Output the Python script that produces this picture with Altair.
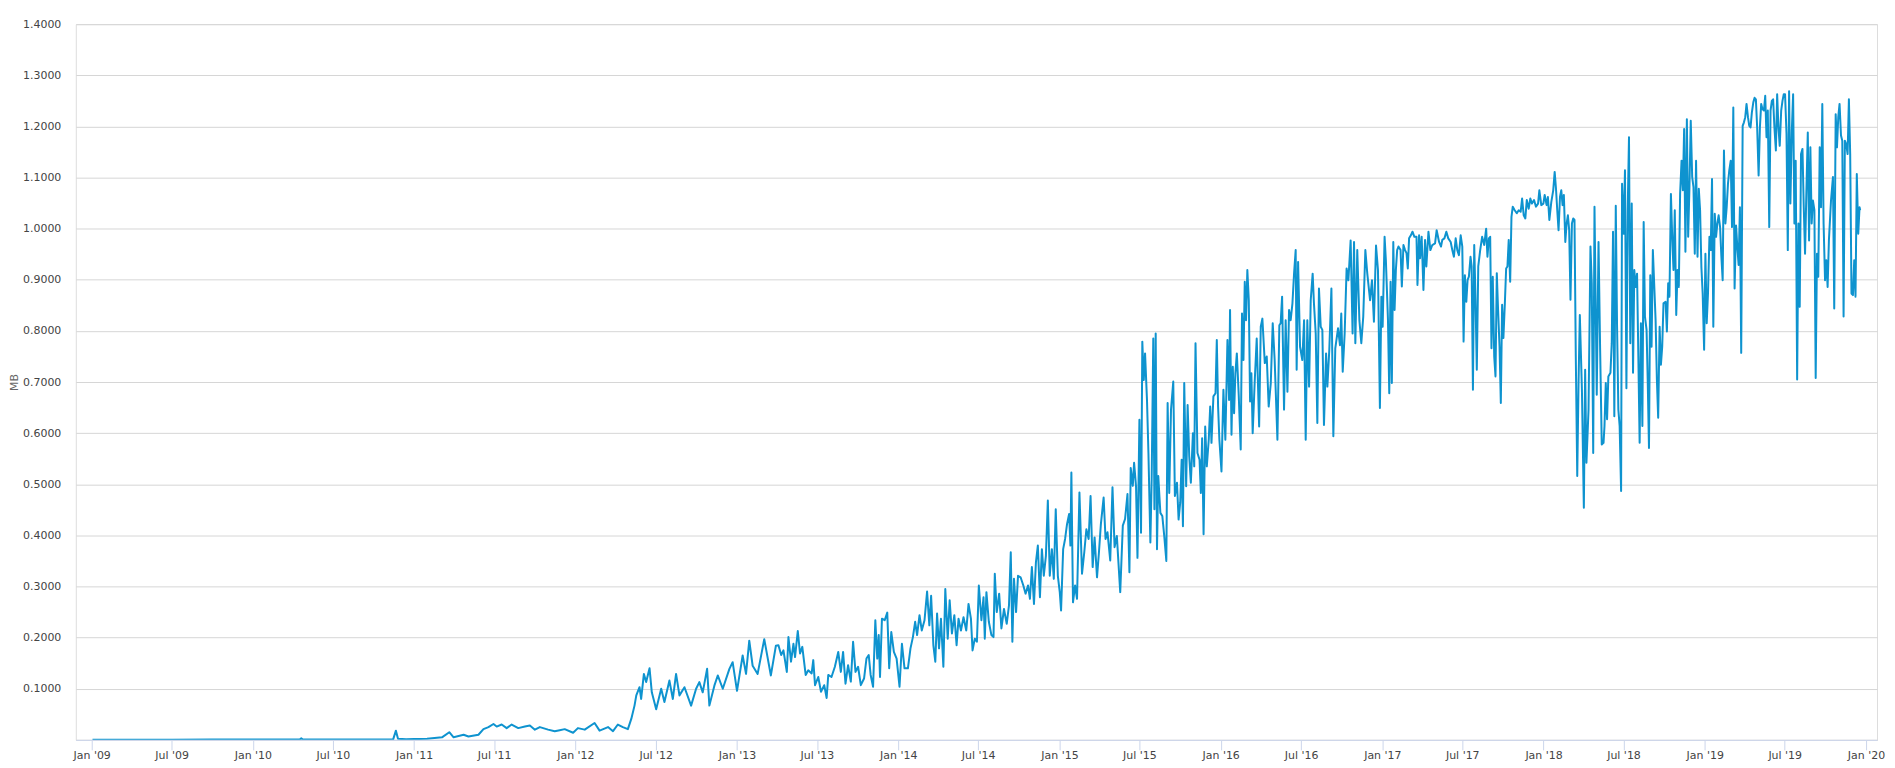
import altair as alt
import pandas as pd

# Average block size (MB); points are [decimal year, MB]
seg_2009_2013 = [
    [2009.005, 0.0002], [2009.25, 0.0003], [2009.5, 0.0004], [2009.75, 0.0005], [2009.9, 0.0007],
    [2010.1, 0.0006], [2010.29, 0.0007], [2010.30, 0.003], [2010.31, 0.0008], [2010.5, 0.0008],
    [2010.7, 0.0009], [2010.87, 0.001], [2010.887, 0.018], [2010.90, 0.002], [2010.95, 0.0012],
    [2011.0, 0.0015], [2011.08, 0.002], [2011.173, 0.005], [2011.218, 0.015], [2011.245, 0.005],
    [2011.307, 0.01], [2011.337, 0.0065], [2011.399, 0.01], [2011.430, 0.021], [2011.461, 0.025],
    [2011.492, 0.031], [2011.512, 0.026], [2011.543, 0.03], [2011.574, 0.023], [2011.605, 0.03],
    [2011.646, 0.023], [2011.687, 0.026], [2011.718, 0.028], [2011.749, 0.02], [2011.780, 0.025],
    [2011.831, 0.02], [2011.872, 0.017], [2011.903, 0.019], [2011.934, 0.021], [2011.986, 0.014],
    [2012.016, 0.023], [2012.058, 0.02], [2012.119, 0.033], [2012.150, 0.018], [2012.202, 0.025],
    [2012.233, 0.017], [2012.263, 0.03], [2012.294, 0.025], [2012.325, 0.021], [2012.346, 0.041],
    [2012.366, 0.067], [2012.377, 0.087], [2012.397, 0.103], [2012.407, 0.08], [2012.424, 0.129],
    [2012.438, 0.113], [2012.459, 0.14], [2012.473, 0.093], [2012.5, 0.06], [2012.531, 0.1],
    [2012.551, 0.074], [2012.582, 0.116], [2012.603, 0.08], [2012.623, 0.129], [2012.644, 0.087],
    [2012.675, 0.103], [2012.716, 0.067], [2012.747, 0.1], [2012.767, 0.113], [2012.788, 0.093],
    [2012.815, 0.139], [2012.829, 0.067], [2012.860, 0.106], [2012.881, 0.126], [2012.912, 0.1],
    [2012.953, 0.139], [2012.973, 0.152], [2013.0, 0.096], [2013.035, 0.165], [2013.056, 0.129],
    [2013.076, 0.194], [2013.097, 0.145], [2013.128, 0.129], [2013.169, 0.197], [2013.210, 0.126],
    [2013.241, 0.184],
]

seg_2013_2015 = [
    [2013.257, 0.185], [2013.274, 0.166], [2013.288, 0.175], [2013.309, 0.133], [2013.319, 0.201],
    [2013.335, 0.153], [2013.350, 0.188], [2013.360, 0.162], [2013.377, 0.213], [2013.391, 0.169],
    [2013.405, 0.182], [2013.426, 0.127], [2013.442, 0.136], [2013.463, 0.13], [2013.473, 0.156],
    [2013.484, 0.107], [2013.504, 0.123], [2013.521, 0.094], [2013.541, 0.107], [2013.556, 0.082],
    [2013.566, 0.127], [2013.586, 0.123], [2013.607, 0.143], [2013.628, 0.172], [2013.644, 0.133],
    [2013.658, 0.172], [2013.673, 0.11], [2013.689, 0.146], [2013.706, 0.114], [2013.720, 0.192],
    [2013.735, 0.133], [2013.751, 0.143], [2013.768, 0.107], [2013.788, 0.12], [2013.803, 0.159],
    [2013.817, 0.166], [2013.829, 0.127], [2013.844, 0.104], [2013.858, 0.234], [2013.870, 0.159],
    [2013.879, 0.205], [2013.887, 0.123], [2013.899, 0.237], [2013.916, 0.234], [2013.932, 0.249],
    [2013.944, 0.14], [2013.957, 0.211], [2013.973, 0.172], [2013.990, 0.159], [2014.008, 0.104],
    [2014.023, 0.188], [2014.039, 0.14], [2014.060, 0.14], [2014.076, 0.179], [2014.091, 0.201],
    [2014.105, 0.231], [2014.117, 0.205], [2014.132, 0.244], [2014.146, 0.214], [2014.163, 0.234],
    [2014.179, 0.29], [2014.193, 0.224], [2014.204, 0.282], [2014.218, 0.185], [2014.230, 0.153],
    [2014.241, 0.247], [2014.253, 0.179], [2014.265, 0.237], [2014.280, 0.143], [2014.292, 0.295],
    [2014.307, 0.198], [2014.319, 0.273], [2014.333, 0.208], [2014.348, 0.244], [2014.362, 0.185],
    [2014.374, 0.237], [2014.389, 0.214], [2014.405, 0.24], [2014.422, 0.214], [2014.436, 0.266],
    [2014.451, 0.237], [2014.461, 0.175], [2014.475, 0.198], [2014.488, 0.192], [2014.500, 0.302],
    [2014.516, 0.234], [2014.529, 0.279], [2014.537, 0.198], [2014.547, 0.289], [2014.562, 0.231],
    [2014.578, 0.205], [2014.591, 0.201], [2014.599, 0.325], [2014.611, 0.25], [2014.626, 0.286],
    [2014.640, 0.218], [2014.656, 0.256], [2014.673, 0.227], [2014.687, 0.263], [2014.698, 0.367],
    [2014.708, 0.192], [2014.718, 0.315], [2014.731, 0.25], [2014.743, 0.321], [2014.759, 0.318],
    [2014.776, 0.302], [2014.790, 0.286], [2014.805, 0.302], [2014.817, 0.276], [2014.829, 0.338],
    [2014.842, 0.266], [2014.854, 0.347], [2014.866, 0.38], [2014.879, 0.279], [2014.891, 0.373],
    [2014.903, 0.321], [2014.916, 0.36], [2014.928, 0.468], [2014.940, 0.321], [2014.953, 0.373],
    [2014.965, 0.315], [2014.977, 0.451], [2014.990, 0.321], [2015.002, 0.289], [2015.010, 0.253],
    [2015.023, 0.373], [2015.035, 0.393], [2015.047, 0.422], [2015.060, 0.442], [2015.068, 0.38],
    [2015.074, 0.523], [2015.084, 0.269], [2015.097, 0.302], [2015.109, 0.276], [2015.124, 0.484],
    [2015.140, 0.325], [2015.154, 0.367], [2015.167, 0.412], [2015.181, 0.393], [2015.193, 0.477],
    [2015.206, 0.338], [2015.218, 0.396], [2015.233, 0.318], [2015.245, 0.367], [2015.257, 0.422],
    [2015.274, 0.474], [2015.286, 0.393], [2015.298, 0.406], [2015.315, 0.351], [2015.329, 0.494],
    [2015.342, 0.377], [2015.356, 0.399], [2015.377, 0.289], [2015.393, 0.419], [2015.407, 0.432],
    [2015.422, 0.481], [2015.434, 0.328], [2015.442, 0.532], [2015.455, 0.497], [2015.463, 0.542],
]

seg_2015_2017 = [
    [2015.475, 0.496], [2015.484, 0.356], [2015.496, 0.626], [2015.506, 0.405], [2015.514, 0.779],
    [2015.523, 0.704], [2015.531, 0.756], [2015.543, 0.665], [2015.552, 0.561], [2015.564, 0.386],
    [2015.572, 0.509], [2015.582, 0.785], [2015.589, 0.451], [2015.597, 0.795], [2015.605, 0.373],
    [2015.613, 0.516], [2015.626, 0.444], [2015.638, 0.438], [2015.650, 0.399], [2015.663, 0.35],
    [2015.671, 0.659], [2015.681, 0.483], [2015.692, 0.646], [2015.706, 0.701], [2015.716, 0.477],
    [2015.729, 0.503], [2015.739, 0.431], [2015.749, 0.464], [2015.758, 0.548], [2015.766, 0.418],
    [2015.774, 0.698], [2015.786, 0.496], [2015.795, 0.655], [2015.805, 0.555], [2015.815, 0.503],
    [2015.828, 0.6], [2015.836, 0.535], [2015.844, 0.776], [2015.856, 0.561], [2015.869, 0.548],
    [2015.877, 0.483], [2015.885, 0.59], [2015.894, 0.402], [2015.904, 0.613], [2015.914, 0.535],
    [2015.926, 0.587], [2015.935, 0.652], [2015.943, 0.581], [2015.955, 0.672], [2015.968, 0.678],
    [2015.976, 0.782], [2015.984, 0.652], [2015.992, 0.587], [2016.005, 0.525], [2016.017, 0.685],
    [2016.029, 0.587], [2016.042, 0.782], [2016.052, 0.665], [2016.058, 0.841], [2016.067, 0.597],
    [2016.075, 0.73], [2016.083, 0.639], [2016.091, 0.717], [2016.100, 0.756], [2016.112, 0.672],
    [2016.124, 0.568], [2016.132, 0.834], [2016.141, 0.743], [2016.149, 0.896], [2016.157, 0.821],
    [2016.165, 0.919], [2016.174, 0.86], [2016.182, 0.662], [2016.190, 0.717], [2016.198, 0.6],
    [2016.211, 0.704], [2016.223, 0.785], [2016.238, 0.613], [2016.248, 0.808], [2016.258, 0.824],
    [2016.273, 0.737], [2016.285, 0.75], [2016.297, 0.652], [2016.310, 0.698], [2016.322, 0.815],
    [2016.334, 0.743], [2016.351, 0.587], [2016.363, 0.811], [2016.371, 0.815], [2016.380, 0.867],
    [2016.392, 0.646], [2016.402, 0.821], [2016.413, 0.681], [2016.423, 0.841], [2016.433, 0.821],
    [2016.444, 0.854], [2016.454, 0.912], [2016.464, 0.958], [2016.470, 0.724], [2016.479, 0.935],
    [2016.491, 0.769], [2016.505, 0.743], [2016.516, 0.821], [2016.526, 0.587], [2016.536, 0.821],
    [2016.547, 0.691], [2016.557, 0.86], [2016.569, 0.912], [2016.577, 0.854], [2016.588, 0.795],
    [2016.598, 0.62], [2016.608, 0.883], [2016.619, 0.808], [2016.629, 0.802], [2016.639, 0.616],
    [2016.652, 0.756], [2016.660, 0.691], [2016.672, 0.763], [2016.685, 0.883], [2016.697, 0.594],
    [2016.709, 0.766], [2016.726, 0.805], [2016.738, 0.772], [2016.746, 0.834], [2016.755, 0.72],
    [2016.767, 0.795], [2016.779, 0.922], [2016.790, 0.899], [2016.804, 0.977], [2016.816, 0.795],
    [2016.825, 0.974], [2016.833, 0.776], [2016.845, 0.958], [2016.858, 0.821], [2016.870, 0.776],
    [2016.882, 0.828], [2016.895, 0.958], [2016.907, 0.912], [2016.924, 0.86], [2016.936, 0.899],
    [2016.948, 0.818], [2016.961, 0.967], [2016.973, 0.919], [2016.985, 0.649], [2016.994, 0.867],
    [2017.002, 0.808], [2017.014, 0.984], [2017.022, 0.938], [2017.035, 0.821], [2017.043, 0.678],
    [2017.051, 0.896], [2017.059, 0.698], [2017.068, 0.974], [2017.076, 0.841],
]

seg_2017_2018 = [
    [2017.084, 0.919], [2017.092, 0.958], [2017.100, 0.965], [2017.113, 0.958], [2017.121, 0.887],
    [2017.131, 0.968], [2017.141, 0.958], [2017.150, 0.952], [2017.158, 0.922], [2017.166, 0.981],
    [2017.177, 0.987], [2017.187, 0.994], [2017.199, 0.984], [2017.212, 0.984], [2017.218, 0.89],
    [2017.228, 0.987], [2017.234, 0.942], [2017.244, 0.984], [2017.255, 0.88], [2017.265, 0.978],
    [2017.273, 0.926], [2017.286, 0.994], [2017.298, 0.958], [2017.310, 0.968], [2017.327, 0.971],
    [2017.337, 0.997], [2017.352, 0.974], [2017.364, 0.965], [2017.372, 0.978], [2017.385, 0.981],
    [2017.397, 0.994], [2017.409, 0.981], [2017.424, 0.974], [2017.434, 0.958], [2017.444, 0.945],
    [2017.455, 0.981], [2017.465, 0.958], [2017.475, 0.948], [2017.486, 0.987], [2017.496, 0.965],
    [2017.504, 0.779], [2017.512, 0.909], [2017.521, 0.857], [2017.529, 0.9], [2017.537, 0.906],
    [2017.547, 0.945], [2017.554, 0.926], [2017.562, 0.685], [2017.570, 0.968], [2017.578, 0.861],
    [2017.586, 0.724], [2017.595, 0.926], [2017.607, 0.958], [2017.619, 0.984], [2017.632, 0.968],
    [2017.644, 1.0], [2017.652, 0.945], [2017.661, 0.981], [2017.669, 0.984], [2017.677, 0.766],
    [2017.685, 0.906], [2017.694, 0.75], [2017.702, 0.711], [2017.710, 0.913], [2017.718, 0.841],
    [2017.727, 0.769], [2017.735, 0.659], [2017.743, 0.851], [2017.751, 0.786], [2017.760, 0.854],
    [2017.768, 0.922], [2017.776, 0.926], [2017.784, 0.978], [2017.793, 0.896], [2017.801, 1.023],
    [2017.809, 1.043], [2017.821, 1.036], [2017.834, 1.03], [2017.846, 1.036], [2017.858, 1.033],
    [2017.867, 1.059], [2017.877, 1.026], [2017.887, 1.02], [2017.896, 1.056], [2017.908, 1.039],
    [2017.918, 1.059], [2017.928, 1.049], [2017.941, 1.056], [2017.953, 1.043], [2017.966, 1.049],
    [2017.974, 1.075], [2017.986, 1.046], [2017.999, 1.049], [2018.007, 1.066], [2018.019, 1.046],
    [2018.027, 1.062], [2018.036, 1.017], [2018.048, 1.052], [2018.060, 1.075], [2018.069, 1.111],
    [2018.077, 1.079], [2018.085, 1.036], [2018.093, 0.997], [2018.102, 1.062], [2018.110, 1.075],
    [2018.118, 1.046], [2018.126, 1.066], [2018.135, 0.974], [2018.143, 1.01], [2018.151, 1.026],
    [2018.159, 0.997], [2018.167, 0.861], [2018.176, 1.01], [2018.184, 1.02], [2018.192, 1.017],
    [2018.200, 0.75], [2018.209, 0.516], [2018.217, 0.698], [2018.225, 0.831], [2018.238, 0.685],
    [2018.250, 0.454], [2018.258, 0.724], [2018.266, 0.542], [2018.279, 0.646], [2018.291, 0.965],
    [2018.299, 0.893], [2018.308, 0.561], [2018.316, 1.043],
]

seg_2018_2019 = [
    [2018.330, 0.675], [2018.341, 0.974], [2018.351, 0.763], [2018.361, 0.578], [2018.372, 0.581],
    [2018.378, 0.614], [2018.386, 0.698], [2018.394, 0.627], [2018.402, 0.711], [2018.415, 0.718],
    [2018.423, 0.776], [2018.431, 0.994], [2018.439, 0.633], [2018.448, 1.045], [2018.456, 0.808],
    [2018.464, 0.646], [2018.472, 0.614], [2018.481, 0.487], [2018.487, 1.088], [2018.497, 0.99],
    [2018.505, 1.114], [2018.514, 0.688], [2018.522, 1.036], [2018.530, 1.179], [2018.538, 0.776],
    [2018.547, 1.049], [2018.555, 0.718], [2018.563, 0.919], [2018.571, 0.886], [2018.580, 0.912],
    [2018.588, 0.75], [2018.596, 0.581], [2018.604, 0.815], [2018.613, 0.614], [2018.621, 1.013],
    [2018.629, 0.828], [2018.639, 0.802], [2018.646, 0.705], [2018.654, 0.571], [2018.662, 0.909],
    [2018.670, 0.769], [2018.678, 0.958], [2018.687, 0.886], [2018.695, 0.821], [2018.703, 0.705],
    [2018.711, 0.63], [2018.720, 0.808], [2018.728, 0.734], [2018.736, 0.769], [2018.744, 0.854],
    [2018.757, 0.857], [2018.765, 0.799], [2018.773, 0.893], [2018.781, 0.867], [2018.790, 1.068],
    [2018.798, 0.984], [2018.806, 0.919], [2018.814, 1.036], [2018.823, 0.831], [2018.831, 0.919],
    [2018.839, 0.886], [2018.847, 1.068], [2018.856, 1.133], [2018.864, 1.075], [2018.872, 1.195],
    [2018.880, 0.955], [2018.889, 1.214], [2018.897, 0.984], [2018.905, 1.081], [2018.913, 1.211],
    [2018.922, 1.101], [2018.930, 1.081], [2018.938, 0.951], [2018.946, 1.133], [2018.955, 0.945],
    [2018.963, 1.078], [2018.971, 1.036], [2018.979, 0.925], [2018.987, 0.873], [2018.996, 0.763],
    [2019.004, 0.951], [2019.012, 0.815], [2019.020, 0.873], [2019.029, 0.984], [2019.037, 0.958],
    [2019.045, 1.097], [2019.053, 0.808], [2019.062, 1.029], [2019.070, 0.984], [2019.078, 1.01],
    [2019.086, 1.026], [2019.095, 1.003], [2019.103, 0.945], [2019.111, 0.899], [2019.119, 1.153],
    [2019.128, 1.01], [2019.136, 1.042], [2019.144, 1.088], [2019.152, 1.114], [2019.161, 1.133],
    [2019.169, 1.003], [2019.177, 1.237], [2019.185, 0.883], [2019.194, 1.006], [2019.202, 0.964],
    [2019.210, 0.929], [2019.218, 1.042], [2019.226, 0.757], [2019.235, 1.201], [2019.243, 1.208],
    [2019.251, 1.218], [2019.259, 1.244], [2019.268, 1.218], [2019.276, 1.201], [2019.284, 1.198],
    [2019.292, 1.227], [2019.301, 1.247], [2019.309, 1.256], [2019.317, 1.253], [2019.325, 1.198],
    [2019.334, 1.104], [2019.342, 1.198], [2019.350, 1.244], [2019.358, 1.234], [2019.367, 1.231],
    [2019.375, 1.26], [2019.383, 1.179], [2019.391, 1.231], [2019.400, 1.003], [2019.408, 1.231],
    [2019.416, 1.25], [2019.424, 1.253], [2019.432, 1.198], [2019.441, 1.153], [2019.449, 1.263],
    [2019.457, 1.198], [2019.465, 1.162], [2019.474, 1.231], [2019.482, 1.25], [2019.490, 1.263],
    [2019.498, 1.263], [2019.507, 1.185], [2019.515, 0.958], [2019.523, 1.269], [2019.531, 1.049],
    [2019.540, 1.192], [2019.548, 1.263], [2019.556, 1.01], [2019.564, 1.133], [2019.573, 0.705],
    [2019.581, 1.01], [2019.589, 0.847], [2019.597, 1.146], [2019.606, 1.156], [2019.614, 1.042],
    [2019.622, 0.951], [2019.630, 1.068], [2019.639, 1.188], [2019.647, 0.977], [2019.655, 1.159],
    [2019.663, 1.01], [2019.671, 1.055], [2019.680, 1.036], [2019.688, 0.708], [2019.696, 0.951],
    [2019.704, 0.906], [2019.713, 1.159], [2019.721, 1.042], [2019.729, 1.244], [2019.737, 1.01],
    [2019.746, 0.899], [2019.754, 0.938], [2019.762, 0.886], [2019.770, 0.977], [2019.783, 1.055],
    [2019.795, 1.101], [2019.803, 0.844], [2019.812, 1.224], [2019.820, 1.159], [2019.828, 1.218],
    [2019.836, 1.244], [2019.845, 1.182], [2019.853, 1.172], [2019.861, 0.828], [2019.869, 1.172],
    [2019.877, 1.166], [2019.886, 1.146], [2019.894, 1.253], [2019.902, 1.146], [2019.910, 0.873],
    [2019.919, 0.87], [2019.927, 0.938], [2019.935, 0.867], [2019.943, 1.107], [2019.952, 0.99],
    [2019.960, 1.042], [2019.964, 1.036],
]

y_ticks = [0.0, 0.1, 0.2, 0.3, 0.4, 0.5, 0.6, 0.7, 0.8, 0.9, 1.0, 1.1, 1.2, 1.3, 1.4]
x_tick_years = list(range(2009, 2021))


def to_date(y):
    yr = int(y)
    start = pd.Timestamp(yr, 1, 1)
    end = pd.Timestamp(yr + 1, 1, 1)
    return start + (y - yr) * (end - start)


rows = seg_2009_2013 + seg_2013_2015 + seg_2015_2017 + seg_2017_2018 + seg_2018_2019
df = pd.DataFrame(rows, columns=["year", "mb"]).sort_values("year")
df["date"] = df["year"].map(to_date).dt.strftime("%Y-%m-%dT%H:%M:%S")
df = df[["date", "mb"]]

x_tick_values = []
for yr in x_tick_years:
    x_tick_values.append(alt.DateTime(year=yr, month=1, date=1))
    if yr < 2020:
        x_tick_values.append(alt.DateTime(year=yr, month=7, date=1))

FONT = "DejaVu Sans"

chart = (
    alt.Chart(df)
    .mark_line(color="#0E93CF", strokeWidth=2, strokeJoin="round", clip=True)
    .encode(
        x=alt.X(
            "date:T",
            scale=alt.Scale(domain=[alt.DateTime(year=2008, month=11, date=26),
                                    alt.DateTime(year=2020, month=1, date=26)]),
            axis=alt.Axis(
                values=x_tick_values, format="%b '%y", title=None, grid=False,
                domainColor="#ccd6eb", tickColor="#ccd6eb", tickSize=10,
                labelPadding=0, labelColor="#444444", labelFontSize=11,
                labelFont=FONT, labelOverlap=False, labelFlush=False,
            ),
        ),
        y=alt.Y(
            "mb:Q",
            scale=alt.Scale(domain=[0, 1.4], nice=False),
            axis=alt.Axis(
                values=y_ticks,
                labelExpr="datum.value == 0 ? '' : format(datum.value, '.4f')",
                title="MB", titleX=-61, titleY=359, titleAngle=270,
                titleAlign="center", titleBaseline="middle",
                titleFontWeight="normal", titleFontSize=11, titleColor="#666666",
                titleFont=FONT,
                ticks=False, domain=False, gridColor="#d6d6d6", gridWidth=1,
                labelPadding=15, labelColor="#444444", labelFontSize=11, labelFont=FONT,
            ),
        ),
    )
    .properties(
        width=1807, height=718,
        autosize=alt.AutoSizeParams(type="none"),
        padding={"left": 68, "top": 15, "right": 10, "bottom": 24},
    )
    .configure_view(stroke=None)
    .configure(font=FONT)
)

chart.save("out.html", embed_options={"renderer": "svg", "actions": False})
